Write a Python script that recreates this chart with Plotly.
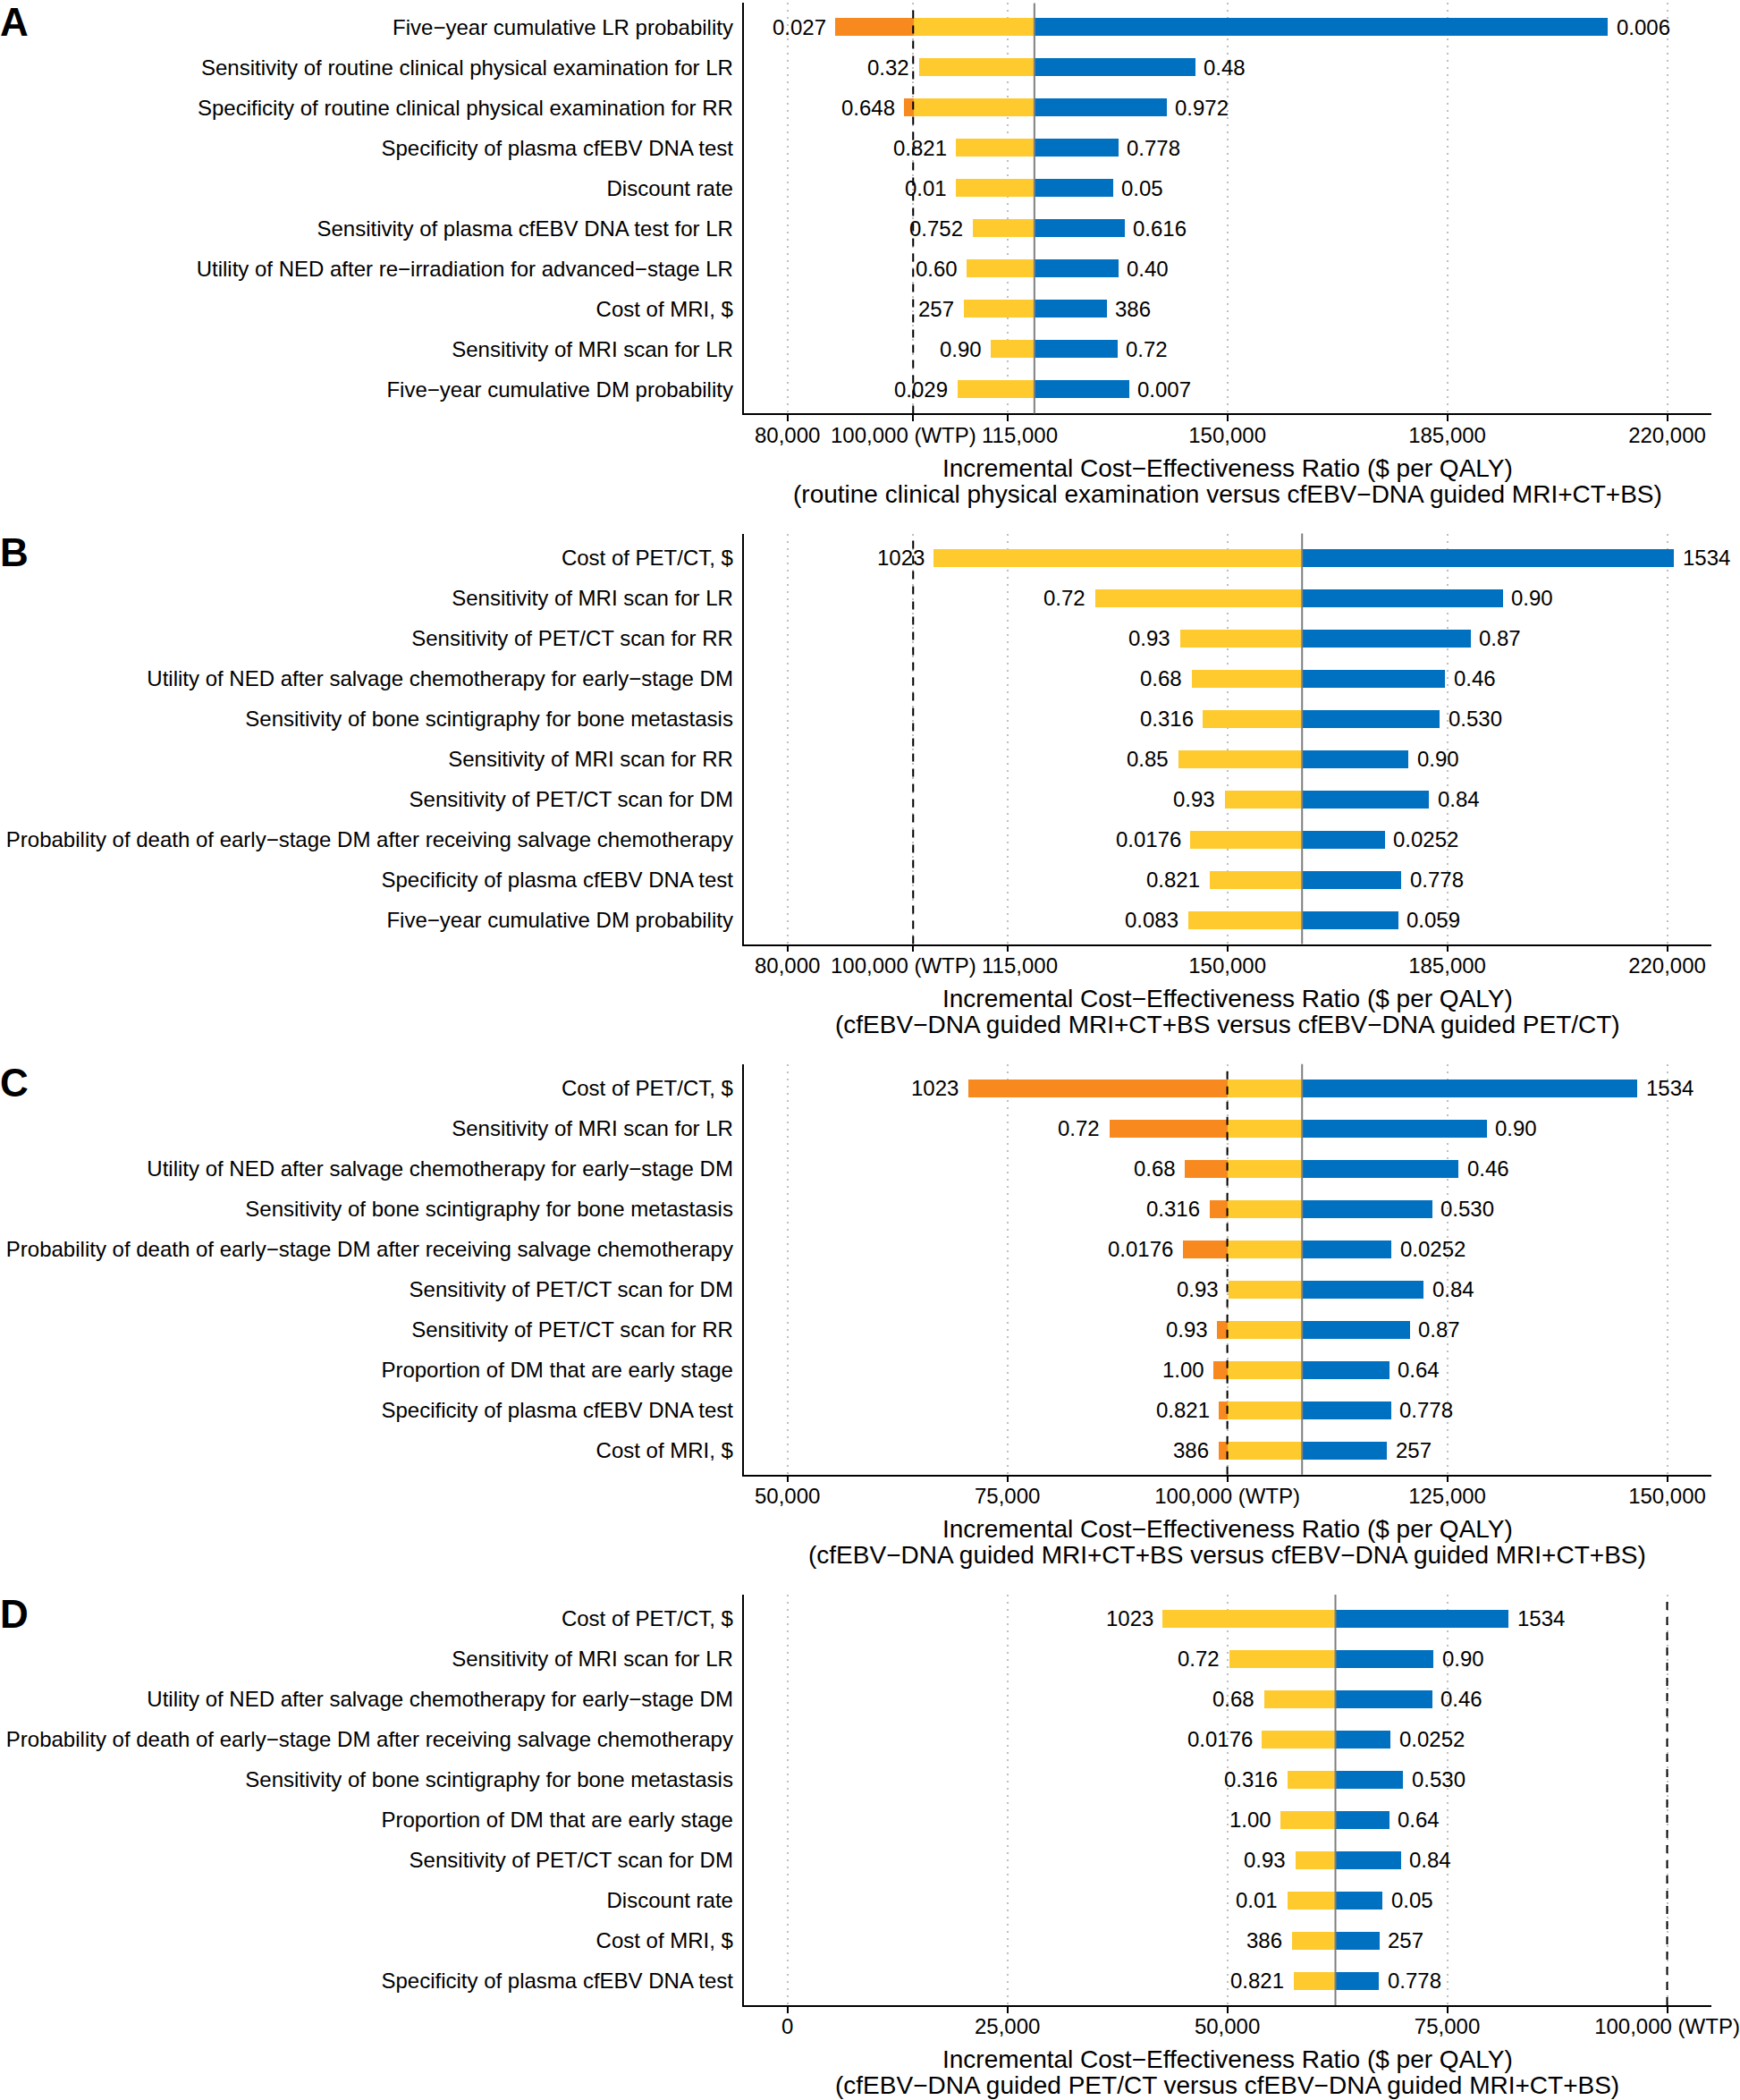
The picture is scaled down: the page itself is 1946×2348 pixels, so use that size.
import plotly.graph_objects as go

W, H = 1946, 2348
WTP = 100000
FONT = "Liberation Sans, Arial, Helvetica, sans-serif"

# ---------------- Panel A ----------------
a_params = [
    "Five−year cumulative LR probability",
    "Sensitivity of routine clinical physical examination for LR",
    "Specificity of routine clinical physical examination for RR",
    "Specificity of plasma cfEBV DNA test",
    "Discount rate",
    "Sensitivity of plasma cfEBV DNA test for LR",
    "Utility of NED after re−irradiation for advanced−stage LR",
    "Cost of MRI, $",
    "Sensitivity of MRI scan for LR",
    "Five−year cumulative DM probability",
]
a_left_icer = [87560, 100830, 98490, 106760, 106760, 109400, 108500, 107980, 112280, 106960]
a_right_icer = [210500, 144840, 140250, 132600, 131770, 133600, 132600, 130750, 132480, 134330]
a_left_lab = ["0.027", "0.32", "0.648", "0.821", "0.01", "0.752", "0.60", "257", "0.90", "0.029"]
a_right_lab = ["0.006", "0.48", "0.972", "0.778", "0.05", "0.616", "0.40", "386", "0.72", "0.007"]
a_base = 119300
a_tickvals = [80000, 100000, 115000, 150000, 185000, 220000]
a_ticktext = ["80,000", "100,000 (WTP)", "115,000", "150,000", "185,000", "220,000"]
a_range = [73000, 227000]
a_title = "(routine clinical physical examination versus cfEBV−DNA guided MRI+CT+BS)"

# ---------------- Panel B ----------------
b_params = [
    "Cost of PET/CT, $",
    "Sensitivity of MRI scan for LR",
    "Sensitivity of PET/CT scan for RR",
    "Utility of NED after salvage chemotherapy for early−stage DM",
    "Sensitivity of bone scintigraphy for bone metastasis",
    "Sensitivity of MRI scan for RR",
    "Sensitivity of PET/CT scan for DM",
    "Probability of death of early−stage DM after receiving salvage chemotherapy",
    "Specificity of plasma cfEBV DNA test",
    "Five−year cumulative DM probability",
]
b_left_icer = [103180, 128910, 142390, 144230, 146070, 142090, 149550, 144030, 147130, 143710]
b_right_icer = [221020, 193750, 188650, 184570, 183750, 178750, 182060, 174970, 177630, 177120]
b_left_lab = ["1023", "0.72", "0.93", "0.68", "0.316", "0.85", "0.93", "0.0176", "0.821", "0.083"]
b_right_lab = ["1534", "0.90", "0.87", "0.46", "0.530", "0.90", "0.84", "0.0252", "0.778", "0.059"]
b_base = 161900
b_tickvals = [80000, 100000, 115000, 150000, 185000, 220000]
b_ticktext = ["80,000", "100,000 (WTP)", "115,000", "150,000", "185,000", "220,000"]
b_range = [73000, 227000]
b_title = "(cfEBV−DNA guided MRI+CT+BS versus cfEBV−DNA guided PET/CT)"

# ---------------- Panel C ----------------
c_params = [
    "Cost of PET/CT, $",
    "Sensitivity of MRI scan for LR",
    "Utility of NED after salvage chemotherapy for early−stage DM",
    "Sensitivity of bone scintigraphy for bone metastasis",
    "Probability of death of early−stage DM after receiving salvage chemotherapy",
    "Sensitivity of PET/CT scan for DM",
    "Sensitivity of PET/CT scan for RR",
    "Proportion of DM that are early stage",
    "Specificity of plasma cfEBV DNA test",
    "Cost of MRI, $",
]
c_left_icer = [70500, 86550, 95150, 97920, 94860, 100050, 98800, 98370, 99020, 98950]
c_right_icer = [146570, 129430, 126230, 123230, 118640, 122290, 120680, 118350, 118570, 118130]
c_left_lab = ["1023", "0.72", "0.68", "0.316", "0.0176", "0.93", "0.93", "1.00", "0.821", "386"]
c_right_lab = ["1534", "0.90", "0.46", "0.530", "0.0252", "0.84", "0.87", "0.64", "0.778", "257"]
c_base = 108500
c_tickvals = [50000, 75000, 100000, 125000, 150000]
c_ticktext = ["50,000", "75,000", "100,000 (WTP)", "125,000", "150,000"]
c_range = [45000, 155000]
c_title = "(cfEBV−DNA guided MRI+CT+BS versus cfEBV−DNA guided MRI+CT+BS)"

# ---------------- Panel D ----------------
d_params = [
    "Cost of PET/CT, $",
    "Sensitivity of MRI scan for LR",
    "Utility of NED after salvage chemotherapy for early−stage DM",
    "Probability of death of early−stage DM after receiving salvage chemotherapy",
    "Sensitivity of bone scintigraphy for bone metastasis",
    "Proportion of DM that are early stage",
    "Sensitivity of PET/CT scan for DM",
    "Discount rate",
    "Cost of MRI, $",
    "Specificity of plasma cfEBV DNA test",
]
d_left_icer = [42600, 50190, 54130, 53900, 56750, 56020, 57700, 56750, 57260, 57480]
d_right_icer = [81910, 73380, 73230, 68500, 69950, 68350, 69660, 67610, 67250, 67180]
d_left_lab = ["1023", "0.72", "0.68", "0.0176", "0.316", "1.00", "0.93", "0.01", "386", "0.821"]
d_right_lab = ["1534", "0.90", "0.46", "0.0252", "0.530", "0.64", "0.84", "0.05", "257", "0.778"]
d_base = 62290
d_tickvals = [0, 25000, 50000, 75000, 100000]
d_ticktext = ["0", "25,000", "50,000", "75,000", "100,000 (WTP)"]
d_range = [-5000, 105000]
d_title = "(cfEBV−DNA guided PET/CT versus cfEBV−DNA guided MRI+CT+BS)"

axis_title = "Incremental Cost−Effectiveness Ratio ($ per QALY)"
panel_letters = ["A", "B", "C", "D"]

# tick labels nudged sideways (pixels) where neighbours are close
label_nudge = {100000: -11, 115000: 14}

panels = [
    (a_params, a_left_icer, a_right_icer, a_left_lab, a_right_lab, a_base, a_tickvals, a_ticktext, a_range, a_title, True),
    (b_params, b_left_icer, b_right_icer, b_left_lab, b_right_lab, b_base, b_tickvals, b_ticktext, b_range, b_title, True),
    (c_params, c_left_icer, c_right_icer, c_left_lab, c_right_lab, c_base, c_tickvals, c_ticktext, c_range, c_title, False),
    (d_params, d_left_icer, d_right_icer, d_left_lab, d_right_lab, d_base, d_tickvals, d_ticktext, d_range, d_title, False),
]

ORANGE = "#F7891F"
YELLOW = "#FECA2E"
BLUE = "#0070C0"

# layout geometry (pixels)
X_LEFT, X_RIGHT = 831.5, 1913.7
PANEL_TOP0, PANEL_STEP, PANEL_H = 3.4, 593.17, 459.0
BAR_W = 0.46
TXT = dict(size=24, color="black", family=FONT)

fig = go.Figure()
annotations = []
shapes = []
layout_axes = {}

for i, (params, left, right, llab, rlab, base, tv, tt, xr, title, nudge) in enumerate(panels):
    n = i + 1
    xa = "x" if n == 1 else f"x{n}"
    ya = "y" if n == 1 else f"y{n}"
    top = PANEL_TOP0 + PANEL_STEP * i
    bottom = top + PANEL_H
    ypos = list(range(len(params)))

    # left side: portion beyond WTP (opposite side to base) in orange, rest yellow
    org_base, org_len, yel_base, yel_len = [], [], [], []
    for lv in left:
        if base > WTP and lv < WTP:
            org_base.append(lv)
            org_len.append(WTP - lv)
            yel_base.append(WTP)
            yel_len.append(base - WTP)
        else:
            org_base.append(lv)
            org_len.append(0)
            yel_base.append(lv)
            yel_len.append(base - lv)
    blue_len = [rv - base for rv in right]

    fig.add_trace(go.Bar(y=ypos, x=org_len, base=org_base, orientation="h", width=BAR_W,
                         marker=dict(color=ORANGE, line=dict(width=0)), xaxis=xa, yaxis=ya,
                         showlegend=False))
    fig.add_trace(go.Bar(y=ypos, x=yel_len, base=yel_base, orientation="h", width=BAR_W,
                         marker=dict(color=YELLOW, line=dict(width=0)), xaxis=xa, yaxis=ya,
                         showlegend=False))
    fig.add_trace(go.Bar(y=ypos, x=blue_len, base=[base] * len(right), orientation="h", width=BAR_W,
                         marker=dict(color=BLUE, line=dict(width=0)), xaxis=xa, yaxis=ya,
                         showlegend=False))

    for k in range(len(params)):
        annotations.append(dict(x=left[k], y=k, xref=xa, yref=ya, text=llab[k], showarrow=False,
                                xanchor="right", yanchor="middle", xshift=-8, font=TXT))
        annotations.append(dict(x=right[k], y=k, xref=xa, yref=ya, text=rlab[k], showarrow=False,
                                xanchor="left", yanchor="middle", xshift=8, font=TXT))

    # base and WTP lines
    shapes.append(dict(type="line", xref=xa, yref=f"{ya} domain", x0=base, x1=base, y0=0, y1=1,
                       line=dict(color="#7F7F7F", width=2), layer="above"))
    shapes.append(dict(type="line", xref=xa, yref=f"{ya} domain", x0=WTP, x1=WTP, y0=0, y1=1,
                       line=dict(color="black", width=2, dash="9px,8px"), layer="above"))

    # x tick labels: axis draws them, except the nudged ones which are placed as annotations
    shown_text = []
    for v, t in zip(tv, tt):
        if nudge and v in label_nudge:
            shown_text.append("")
            annotations.append(dict(x=v, y=1 - (bottom + 24) / H, xref=xa, yref="paper", text=t,
                                    showarrow=False, xanchor="center", yanchor="middle",
                                    xshift=label_nudge[v], font=TXT))
        else:
            shown_text.append(t)

    # axis titles
    annotations.append(dict(x=(X_LEFT + X_RIGHT) / 2 / W, y=1 - (bottom + 61) / H, xref="paper", yref="paper",
                            text=axis_title, showarrow=False, xanchor="center", yanchor="middle",
                            font=dict(size=28, color="black", family=FONT)))
    annotations.append(dict(x=(X_LEFT + X_RIGHT) / 2 / W, y=1 - (bottom + 90) / H, xref="paper", yref="paper",
                            text=title, showarrow=False, xanchor="center", yanchor="middle",
                            font=dict(size=28, color="black", family=FONT)))
    # panel letter
    annotations.append(dict(x=0, y=1 - (top - 3.4) / H, xref="paper", yref="paper",
                            text=f"<b>{panel_letters[i]}</b>", showarrow=False, xanchor="left", yanchor="top",
                            borderpad=0, borderwidth=0,
                            font=dict(size=44, color="black", family=FONT)))

    xkey = "xaxis" if n == 1 else f"xaxis{n}"
    ykey = "yaxis" if n == 1 else f"yaxis{n}"
    layout_axes[xkey] = dict(
        domain=[X_LEFT / W, X_RIGHT / W], range=xr, anchor=ya, automargin=False,
        tickmode="array", tickvals=tv, ticktext=shown_text, tickangle=0,
        showline=True, linecolor="black", linewidth=1.5,
        ticks="outside", ticklen=7, tickwidth=1.5, tickcolor="black",
        showgrid=True, gridcolor="#BEBEBE", gridwidth=1.5, griddash="2px,6px",
        zeroline=False, tickfont=TXT, ticklabelstandoff=-5,
        fixedrange=True,
    )
    layout_axes[ykey] = dict(
        domain=[1 - bottom / H, 1 - top / H], range=[len(params) - 0.4, -0.6], anchor=xa, automargin=False,
        tickmode="array", tickvals=ypos, ticktext=params,
        showline=True, linecolor="black", linewidth=1.5, ticks="",
        showgrid=False, zeroline=False, ticklabelstandoff=5,
        tickfont=TXT, fixedrange=True,
    )

fig.update_layout(
    width=W, height=H, margin=dict(l=0, r=0, t=0, b=0, autoexpand=False),
    paper_bgcolor="white", plot_bgcolor="white",
    barmode="overlay", bargap=0,
    font=dict(family=FONT, size=24, color="black"),
    annotations=annotations, shapes=shapes, showlegend=False,
    **layout_axes,
)

fig.write_html("out.html", config={"displayModeBar": False},
               post_script="document.body.style.margin='0';document.body.style.overflow='hidden';")
